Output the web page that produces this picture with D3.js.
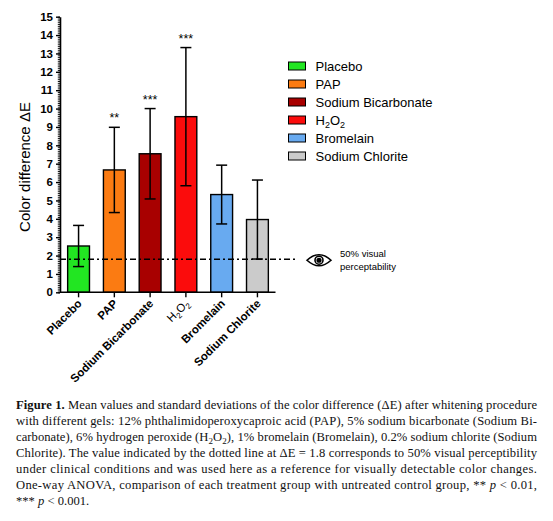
<!DOCTYPE html>
<html>
<head>
<meta charset="utf-8">
<script src="https://cdn.jsdelivr.net/npm/d3@7"></script>
<style>
  body { margin: 0; background: #fff; }
  svg { display: block; }
</style>
</head>
<body>
<svg id="chart" width="553" height="521"></svg>
<script>
/* chart data */

const groups = ["Placebo", "PAP", "Sodium Bicarbonate", "H2O2", "Bromelain", "Sodium Chlorite"];
const means = [2.52, 6.66, 7.54, 9.56, 5.32, 3.96];
const sds = [1.12, 2.32, 2.46, 3.76, 1.60, 2.15];
const stars = ["", "**", "***", "***", "", ""];
const colors = ["#22e622", "#fb7b12", "#a80000", "#fb0c0c", "#68aaf0", "#cbcbcb"];
const yTicks = [0, 1, 2, 3, 4, 5, 6, 7, 8, 9, 10, 11, 12, 13, 14, 15];
const threshold = 1.8;

const captionLines = [
  [["b", "Figure 1."], ["", " Mean values and standard deviations of the color difference (\u0394E) after whitening procedure"]],
  [["", "with different gels: 12% phthalimidoperoxycaproic acid (PAP), 5% sodium bicarbonate (Sodium Bi-"]],
  [["", "carbonate), 6% hydrogen peroxide (H"], ["sub", "2"], ["", "O"], ["sub", "2"], ["", "), 1% bromelain (Bromelain), 0.2% sodium chlorite (Sodium"]],
  [["", "Chlorite). The value indicated by the dotted line at \u0394E = 1.8 corresponds to 50% visual perceptibility"]],
  [["", "under clinical conditions and was used here as a reference for visually detectable color changes."]],
  [["", "One-way ANOVA, comparison of each treatment group with untreated control group, ** "], ["i", "p"], ["", " < 0.01,"]],
  [["", "*** "], ["i", "p"], ["", " < 0.001."]]
];

var svg = d3.select("#chart");
const sans = "'Liberation Sans', Arial, sans-serif";

let x = d3.scaleBand()
  .domain(groups)
  .range([60.5, 275.5])
  .paddingInner(0.39)
  .paddingOuter(0.2);

let y = d3.scaleLinear()
  .domain([0, 15])
  .range([292.3, 16.7]);

function refLine() {
  svg.append("line")
    .attr("x1", 60).attr("x2", 297)
    .attr("y1", y(threshold)).attr("y2", y(threshold))
    .attr("stroke", "#000")
    .attr("stroke-width", 1.3)
    .attr("stroke-dasharray", "6,3,2,3");
}

// bars
svg.append("g")
  .selectAll("rect")
  .data(groups)
  .enter().append("rect")
  .attr("x", d => x(d))
  .attr("width", x.bandwidth())
  .attr("y", (d, i) => y(means[i]))
  .attr("height", (d, i) => y(0) - y(means[i]))
  .attr("fill", (d, i) => colors[i])
  .attr("stroke", "#000")
  .attr("stroke-width", 1.4);

// the reference line shows over the bars in the original
refLine();

// error bars
let eb = svg.append("g")
  .attr("stroke", "#000")
  .attr("stroke-width", 1.5);

groups.forEach((g, i) => {
  let cx = x(g) + x.bandwidth() / 2;
  let top = y(means[i] + sds[i]);
  let bot = y(means[i] - sds[i]);
  eb.append("line").attr("x1", cx).attr("x2", cx).attr("y1", top).attr("y2", bot);
  eb.append("line").attr("x1", cx - 5.5).attr("x2", cx + 5.5).attr("y1", top).attr("y2", top);
  eb.append("line").attr("x1", cx - 5.5).attr("x2", cx + 5.5).attr("y1", bot).attr("y2", bot);
  if (stars[i]) {
    svg.append("text")
      .attr("x", cx)
      .attr("y", top - 5)
      .attr("text-anchor", "middle")
      .attr("font-family", sans)
      .attr("font-size", "12.5px")
      .text(stars[i]);
  }
});

// y axis, minor ticks every 0.1
svg.append("g")
  .attr("transform", "translate(60,0)")
  .call(d3.axisLeft(y).ticks(150).tickSize(2.2).tickFormat(""))
  .call(g => g.selectAll("line").attr("stroke-width", 0.9))
  .call(g => g.select(".domain").remove());

// y axis, major ticks
svg.append("g")
  .attr("transform", "translate(60,0)")
  .call(d3.axisLeft(y).tickValues(yTicks).tickSize(4).tickSizeOuter(0).tickPadding(3))
  .call(g => g.select(".domain").attr("stroke-width", 1.6))
  .call(g => g.selectAll("line").attr("stroke-width", 1.4))
  .call(g => g.selectAll("text")
    .attr("font-family", sans)
    .attr("font-weight", "bold")
    .attr("font-size", "11.5px")
    .attr("fill", "#000"));

// x axis
svg.append("g")
  .attr("transform", "translate(0," + y(0) + ")")
  .call(d3.axisBottom(x).tickSize(5).tickSizeOuter(0).tickFormat(""))
  .call(g => g.select(".domain").attr("d", "M60,0H275.5").attr("stroke-width", 1.6))
  .call(g => g.selectAll("line").attr("stroke-width", 1.4));

// rotated x labels
groups.forEach(g => {
  let cx = x(g) + x.bandwidth() / 2;
  let t = svg.append("text")
    .attr("transform", "translate(" + (cx + 4) + "," + (y(0) + 12) + ") rotate(-45)")
    .attr("text-anchor", "end")
    .attr("font-family", sans)
    .attr("font-size", "11.5px")
    .attr("font-weight", "bold");
  if (g === "H2O2") {
    t.attr("font-weight", "normal");
    t.append("tspan").text("H");
    t.append("tspan").attr("font-size", "8px").attr("dy", 3).text("2");
    t.append("tspan").attr("dy", -3).text("O");
    t.append("tspan").attr("font-size", "8px").attr("dy", 3).text("2");
  } else {
    t.text(g);
  }
});

// y axis title
svg.append("text")
  .attr("transform", "translate(30,167) rotate(-90)")
  .attr("text-anchor", "middle")
  .attr("font-family", sans)
  .attr("font-size", "15px")
  .text("Color difference \u0394E");

// legend
let legend = svg.append("g");
groups.forEach((g, i) => {
  let ly = 66 + i * 18;
  legend.append("rect")
    .attr("x", 288.5).attr("y", ly - 4)
    .attr("width", 17).attr("height", 8)
    .attr("fill", colors[i])
    .attr("stroke", "#000")
    .attr("stroke-width", 1);
  let t = legend.append("text")
    .attr("x", 315.5).attr("y", ly + 4.5)
    .attr("font-family", sans)
    .attr("font-size", "13px");
  if (g === "H2O2") {
    t.append("tspan").text("H");
    t.append("tspan").attr("font-size", "9px").attr("dy", 3).text("2");
    t.append("tspan").attr("dy", -3).text("O");
    t.append("tspan").attr("font-size", "9px").attr("dy", 3).text("2");
  } else {
    t.text(g);
  }
});

// eye symbol and note
let eyeY = y(threshold) + 1;
let eye = svg.append("g")
  .attr("fill", "none")
  .attr("stroke", "#000")
  .attr("stroke-width", 1.6);
eye.append("path")
  .attr("d", "M307," + eyeY + " Q319," + (eyeY - 11) + " 331," + eyeY + " Q319," + (eyeY + 11) + " 307," + eyeY + " Z");
eye.append("circle").attr("cx", 319).attr("cy", eyeY).attr("r", 4);
eye.append("circle").attr("cx", 319).attr("cy", eyeY).attr("r", 1.8).attr("fill", "#000");

svg.append("text")
  .attr("x", 340).attr("y", eyeY - 3)
  .attr("font-family", sans)
  .attr("font-size", "9.5px")
  .text("50% visual");
svg.append("text")
  .attr("x", 340).attr("y", eyeY + 10)
  .attr("font-family", sans)
  .attr("font-size", "9.5px")
  .text("perceptability");

// caption
let cap = svg.append("g")
  .attr("font-family", "'Liberation Serif', 'Times New Roman', serif")
  .attr("font-size", "12.6px")
  .attr("fill", "#111");

captionLines.forEach((line, i) => {
  let t = cap.append("text")
    .attr("x", 16)
    .attr("y", 409 + i * 16)
    .attr("xml:space", "preserve");
  if (i < captionLines.length - 1) {
    t.attr("textLength", 521).attr("lengthAdjust", "spacing");
  }
  let prevSub = false;
  line.forEach(part => {
    let s = t.append("tspan").text(part[1]);
    if (part[0] === "b") s.attr("font-weight", "bold");
    if (part[0] === "i") s.attr("font-style", "italic");
    if (part[0] === "sub") {
      s.attr("font-size", "9px").attr("dy", 3);
    } else if (prevSub) {
      s.attr("dy", -3);
    }
    prevSub = part[0] === "sub";
  });
});
</script>
</body>
</html>
